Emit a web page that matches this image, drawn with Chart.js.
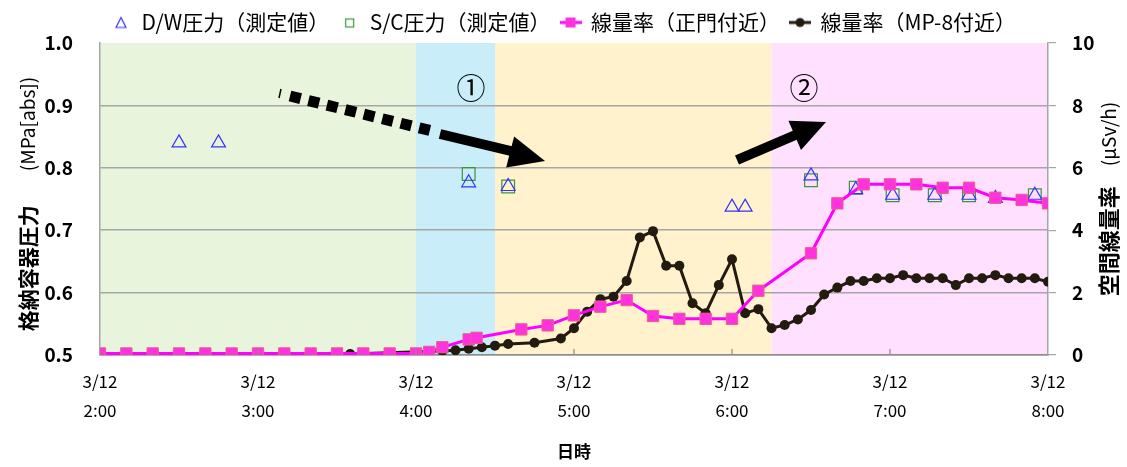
<!DOCTYPE html>
<html>
<head>
<meta charset="utf-8">
<script src="https://cdn.jsdelivr.net/npm/chart.js@4.4.1/dist/chart.umd.min.js"></script>
<style>
html, body { margin: 0; padding: 0; background: #fff; }
</style>
</head>
<body>
<canvas id="chart" width="1127" height="467"></canvas>
<script>
// 時刻ラベル（x軸）
var xTickLabels = ['2:00', '3:00', '4:00', '5:00', '6:00', '7:00', '8:00'];

// D/W圧力（測定値） MPa[abs]
var dwTimes  = ['2:30', '2:45', '4:20', '4:35', '6:00', '6:05', '6:30', '6:47', '7:01', '7:17', '7:30', '7:40', '7:55'];
var dwValues = [0.84, 0.84, 0.776, 0.77, 0.737, 0.737, 0.787, 0.765, 0.756, 0.756, 0.756, 0.751, 0.756];

// S/C圧力（測定値） MPa[abs]
var scTimes  = ['4:20', '4:35', '6:30', '6:47', '7:01', '7:17', '7:30', '7:55'];
var scValues = [0.79, 0.77, 0.78, 0.768, 0.756, 0.756, 0.756, 0.756];

// 線量率（正門付近） μSv/h
var gateTimes  = ['2:00', '2:10', '2:20', '2:30', '2:40', '2:50', '3:00', '3:10', '3:20', '3:30', '3:40', '3:50', '4:00',
                  '4:05', '4:10', '4:20', '4:23', '4:40', '4:50', '5:00', '5:10', '5:20', '5:30', '5:40', '5:50', '6:00',
                  '6:10', '6:30', '6:40', '6:50', '7:00', '7:10', '7:20', '7:30', '7:40', '7:50', '8:00'];
var gateValues = [0.05, 0.05, 0.05, 0.05, 0.05, 0.05, 0.05, 0.05, 0.05, 0.05, 0.05, 0.05, 0.05,
                  0.1, 0.25, 0.5, 0.55, 0.82, 0.95, 1.27, 1.55, 1.76, 1.25, 1.16, 1.16, 1.16,
                  2.06, 3.26, 4.86, 5.47, 5.47, 5.47, 5.36, 5.36, 5.04, 4.97, 4.86];

// 線量率（MP-8付近） μSv/h
var mp8Times  = ['3:35', '4:10', '4:15', '4:20', '4:25', '4:30', '4:35', '4:45', '4:55', '5:00', '5:05', '5:10', '5:15',
                 '5:20', '5:25', '5:30', '5:35', '5:40', '5:45', '5:50', '5:55', '6:00', '6:05', '6:10', '6:15', '6:20',
                 '6:25', '6:30', '6:35', '6:40', '6:45', '6:50', '6:55', '7:00', '7:05', '7:10', '7:15', '7:20', '7:25',
                 '7:30', '7:35', '7:40', '7:45', '7:50', '7:55', '8:00'];
var mp8Values = [0.03, 0.13, 0.15, 0.2, 0.25, 0.3, 0.35, 0.39, 0.53, 0.86, 1.39, 1.79, 1.87,
                 2.37, 3.77, 3.97, 2.86, 2.86, 1.66, 1.34, 2.24, 3.07, 1.34, 1.47, 0.86, 0.96,
                 1.14, 1.44, 1.94, 2.16, 2.37, 2.37, 2.46, 2.46, 2.56, 2.46, 2.46, 2.46, 2.24,
                 2.46, 2.46, 2.56, 2.46, 2.46, 2.46, 2.35];

// 背景の区間
var bandStart  = ['2:00', '4:00', '4:30', '6:15'];
var bandEnd    = ['4:00', '4:30', '6:15', '8:00'];
var bandColors = ['#e9f4dc', '#c9edf9', '#fff2cc', '#ffe0fe'];

var FONT = '"Noto Sans CJK JP", "Noto Sans", sans-serif';

// "H:MM" -> 2:00からの分
function toMin(t) {
  var p = t.split(':');
  return (parseInt(p[0]) - 2) * 60 + parseInt(p[1]);
}
function pts(times, vals) {
  return times.map(function (t, i) { return { x: toMin(t), y: vals[i] }; });
}

// 凡例マーカー
function legendIcon(kind) {
  var c = document.createElement('canvas');
  c.width = 22; c.height = 14;
  var g = c.getContext('2d');
  if (kind == 'tri') {
    g.strokeStyle = '#3333ff'; g.lineWidth = 1.2;
    g.beginPath(); g.moveTo(11, 2); g.lineTo(16, 12); g.lineTo(6, 12); g.closePath(); g.stroke();
  } else if (kind == 'sq') {
    g.strokeStyle = '#3a963a'; g.lineWidth = 1.2;
    g.strokeRect(7.5, 3.5, 8, 8);
  } else if (kind == 'pink') {
    g.strokeStyle = '#ff00ff'; g.lineWidth = 3;
    g.beginPath(); g.moveTo(0, 7); g.lineTo(22, 7); g.stroke();
    g.fillStyle = '#ff33dd'; g.fillRect(6, 2, 10, 10);
  } else {
    g.strokeStyle = '#231a10'; g.lineWidth = 3;
    g.beginPath(); g.moveTo(0, 7); g.lineTo(22, 7); g.stroke();
    g.fillStyle = '#231a10'; g.beginPath(); g.arc(11, 7, 4.5, 0, Math.PI * 2); g.fill();
  }
  return c;
}
var icons = [legendIcon('tri'), legendIcon('sq'), legendIcon('pink'), legendIcon('black')];

function drawArrowHead(ctx, x0, y0, x1, y1, len, half) {
  var a = Math.atan2(y1 - y0, x1 - x0);
  ctx.beginPath();
  ctx.moveTo(x1, y1);
  ctx.lineTo(x1 - len * Math.cos(a) + half * Math.sin(a), y1 - len * Math.sin(a) - half * Math.cos(a));
  ctx.lineTo(x1 - len * Math.cos(a) - half * Math.sin(a), y1 - len * Math.sin(a) + half * Math.cos(a));
  ctx.closePath();
  ctx.fill();
}

var extras = {
  id: 'extras',
  beforeDraw: function (chart) {
    var ctx = chart.ctx, a = chart.chartArea, x = chart.scales.x;
    for (var i = 0; i < bandStart.length; i++) {
      var x0 = x.getPixelForValue(toMin(bandStart[i]));
      var x1 = x.getPixelForValue(toMin(bandEnd[i]));
      ctx.fillStyle = bandColors[i];
      ctx.fillRect(x0, a.top, x1 - x0, a.bottom - a.top);
    }
  },
  afterDatasetsDraw: function (chart) {
    var ctx = chart.ctx;
    ctx.save();
    ctx.fillStyle = '#000';
    ctx.strokeStyle = '#000';
    // 破線矢印
    ctx.lineWidth = 1.5;
    ctx.beginPath(); ctx.moveTo(279, 98); ctx.lineTo(281, 89); ctx.stroke();
    ctx.lineWidth = 11;
    ctx.setLineDash([11, 8]);
    ctx.beginPath(); ctx.moveTo(290, 96); ctx.lineTo(432, 131); ctx.stroke();
    ctx.setLineDash([]);
    ctx.lineWidth = 10;
    ctx.beginPath(); ctx.moveTo(440, 134); ctx.lineTo(515, 152); ctx.stroke();
    drawArrowHead(ctx, 440, 134, 545, 161, 36, 16);
    // 矢印②
    ctx.beginPath(); ctx.moveTo(737, 160); ctx.lineTo(800, 133); ctx.stroke();
    drawArrowHead(ctx, 737, 160, 826, 122, 34, 16);
    // 丸数字
    ctx.font = '29px ' + FONT;
    ctx.textAlign = 'center';
    ctx.textBaseline = 'middle';
    ctx.fillText('①', 471, 88);
    ctx.fillText('②', 804, 88);
    ctx.restore();
  },
  afterDraw: function (chart) {
    var ctx = chart.ctx, a = chart.chartArea, x = chart.scales.x;
    ctx.save();
    // x軸の内側目盛
    ctx.strokeStyle = '#8c8c8c'; ctx.lineWidth = 1.2;
    for (var v = 60; v < 360; v += 60) {
      var px = x.getPixelForValue(v);
      ctx.beginPath(); ctx.moveTo(px, a.bottom); ctx.lineTo(px, a.bottom - 6); ctx.stroke();
    }
    // 軸タイトル
    ctx.fillStyle = '#000';
    ctx.textBaseline = 'middle';
    ctx.textAlign = 'left';
    function vtitle(cx, cy, bold, normal, bsize, nsize, gap) {
      ctx.save();
      ctx.translate(cx, cy);
      ctx.rotate(-Math.PI / 2);
      ctx.font = 'bold ' + bsize + 'px ' + FONT;
      var w1 = ctx.measureText(bold).width;
      ctx.font = nsize + 'px ' + FONT;
      var w2 = ctx.measureText(normal).width;
      var sx = -(w1 + gap + w2) / 2;
      ctx.font = 'bold ' + bsize + 'px ' + FONT;
      ctx.fillText(bold, sx, 0);
      ctx.font = nsize + 'px ' + FONT;
      ctx.fillText(normal, sx + w1 + gap, 0);
      ctx.restore();
    }
    vtitle(28, 204, '格納容器圧力', '(MPa[abs])', 21, 19, 34);
    vtitle(1109, 199, '空間線量率', '(μSv/h)', 22, 19, 20);
    ctx.restore();
  }
};

var config = {
  type: 'line',
  data: {
    datasets: [{
      label: 'D/W圧力（測定値）',
      data: pts(dwTimes, dwValues),
      yAxisID: 'y',
      showLine: false,
      pointStyle: 'triangle',
      pointRadius: 8,
      pointBorderWidth: 1.2,
      pointBackgroundColor: 'rgba(0,0,0,0)',
      pointBorderColor: '#3333ff',
      borderColor: '#3333ff',
      order: 2
    }, {
      label: 'S/C圧力（測定値）',
      data: pts(scTimes, scValues),
      yAxisID: 'y',
      showLine: false,
      pointStyle: 'rect',
      pointRadius: 9,
      pointBorderWidth: 1.2,
      pointBackgroundColor: 'rgba(0,0,0,0)',
      pointBorderColor: '#3a963a',
      borderColor: '#3a963a',
      order: 3
    }, {
      label: '線量率（正門付近）',
      data: pts(gateTimes, gateValues),
      yAxisID: 'y2',
      borderColor: '#ff00ff',
      borderWidth: 3,
      pointStyle: 'rect',
      pointRadius: 8,
      pointBorderWidth: 1,
      pointBackgroundColor: '#ff33dd',
      pointBorderColor: '#e8608a',
      order: 0
    }, {
      label: '線量率（MP-8付近）',
      data: pts(mp8Times, mp8Values),
      yAxisID: 'y2',
      borderColor: '#231a10',
      borderWidth: 3,
      pointStyle: 'circle',
      pointRadius: 5,
      pointBorderWidth: 0,
      pointBackgroundColor: '#231a10',
      order: 1
    }]
  },
  options: {
    responsive: false,
    animation: false,
    devicePixelRatio: 1,
    layout: { padding: { top: 2, left: 0, right: 0, bottom: 0 } },
    plugins: {
      tooltip: { enabled: false },
      legend: {
        position: 'top',
        labels: {
          usePointStyle: true,
          pointStyleWidth: 20,
          padding: 10,
          color: '#000',
          font: { family: FONT, size: 21 },
          sort: function (a, b) { return a.datasetIndex - b.datasetIndex; },
          generateLabels: function (chart) {
            return chart.data.datasets.map(function (ds, i) {
              return { text: ds.label, pointStyle: icons[i], datasetIndex: i, hidden: false,
                       fillStyle: 'rgba(0,0,0,0)', strokeStyle: 'rgba(0,0,0,0)', lineWidth: 0, fontColor: '#000' };
            });
          }
        }
      }
    },
    scales: {
      x: {
        type: 'linear',
        min: 0,
        max: 360,
        afterFit: function (s) { s.height = 112; },
        ticks: {
          stepSize: 60,
          padding: 12,
          color: '#000',
          maxRotation: 0,
          font: { family: FONT, size: 17, lineHeight: 1.7 },
          callback: function (v) { return ['3/12', xTickLabels[v / 60]]; }
        },
        grid: { display: false, drawTicks: false },
        border: { display: true, color: '#8c8c8c', width: 1.5 },
        title: { display: true, text: '日時', color: '#000', font: { family: FONT, size: 17, weight: 'bold' }, padding: { top: 6, bottom: 5 } }
      },
      y: {
        position: 'left',
        min: 0.5,
        max: 1.0,
        afterFit: function (s) { s.width = 100; },
        ticks: {
          stepSize: 0.1,
          padding: 27,
          color: '#000',
          font: { family: FONT, size: 19, weight: 'bold' },
          callback: function (v) { return v.toFixed(1); }
        },
        grid: {
          drawTicks: false,
          lineWidth: 1.5,
          color: function (c) { return (c.tick && c.tick.value > 0.99) ? 'rgba(0,0,0,0)' : '#a6a6a6'; }
        },
        border: { display: true, color: '#a6a6a6', width: 1.5 }
      },
      y2: {
        position: 'right',
        min: 0,
        max: 10,
        afterFit: function (s) { s.width = 79; },
        ticks: {
          stepSize: 2,
          padding: 16,
          color: '#000',
          font: { family: FONT, size: 19, weight: 'bold' }
        },
        grid: { drawOnChartArea: false, drawTicks: true, tickLength: 8, color: '#a6a6a6', lineWidth: 1.2 },
        border: { display: true, color: '#a6a6a6', width: 1.5 }
      }
    }
  },
  plugins: [extras]
};

var myChart = new Chart(document.getElementById('chart'), config);
</script>
</body>
</html>
